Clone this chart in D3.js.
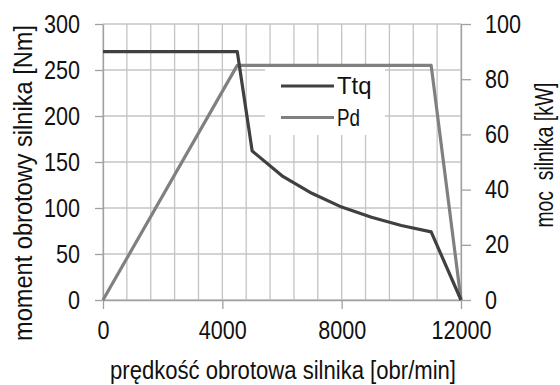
<!DOCTYPE html>
<html>
<head>
<meta charset="utf-8">
<script src="https://cdn.jsdelivr.net/npm/d3@7"></script>
<style>
  body { margin: 0; background: #fff; }
  text { font-family: "Liberation Sans", Arial, sans-serif; fill: #111; }
</style>
</head>
<body>
<script>
// engine speed [obr/min]
const ttqSpeed = [0, 4500, 5000, 6000, 7000, 8000, 9000, 10000, 11000, 12000];
const ttqValues = [270, 270, 162, 135, 116, 101, 90, 81, 74, 0];   // Nm
const pdSpeed = [0, 4500, 11000, 12000];
const pdValues = [0, 85, 85, 0];                                  // kW
const xTicks = [0, 4000, 8000, 12000];
const leftTicks = [0, 50, 100, 150, 200, 250, 300];
const rightTicks = [0, 20, 40, 60, 80, 100];
const seriesNames = ["Ttq", "Pd"];

let margin = {top: 24, right: 99, bottom: 85, left: 103};
let width = 560 - margin.left - margin.right;
let height = 385 - margin.top - margin.bottom;

let xScale = d3.scaleLinear().domain([0, 12000]).range([0, width]);
let yLeft = d3.scaleLinear().domain([0, 300]).range([height, 0]);
let yRight = d3.scaleLinear().domain([0, 100]).range([height, 0]);

let svg = d3.select("body").append("svg")
  .attr("width", 560)
  .attr("height", 385);
let chart = svg.append("g")
  .attr("transform", "translate(" + margin.left + "," + margin.top + ")");

// grid lines
chart.append("g")
  .selectAll("line")
  .data(d3.range(0, 12001, 800))
  .enter().append("line")
    .attr("x1", function(d) { return xScale(d); })
    .attr("x2", function(d) { return xScale(d); })
    .attr("y1", 0).attr("y2", height)
    .attr("stroke", "#c4c4c4").attr("stroke-width", 1.3);
chart.append("g")
  .selectAll("line")
  .data(leftTicks)
  .enter().append("line")
    .attr("x1", 0).attr("x2", width)
    .attr("y1", function(d) { return yLeft(d); })
    .attr("y2", function(d) { return yLeft(d); })
    .attr("stroke", "#c4c4c4").attr("stroke-width", 1.3);

// legend background
chart.append("rect")
  .attr("x", 265 - margin.left).attr("y", 67 - margin.top)
  .attr("width", 120).attr("height", 68)
  .attr("fill", "#fff");

// axes - labels squeezed a bit, the original font is narrow
function styleAxis(g) {
  g.select(".domain").attr("stroke", "#a0a0a0").attr("stroke-width", 1.3);
  g.selectAll(".tick line").attr("stroke", "#a0a0a0").attr("stroke-width", 1.3);
  g.selectAll(".tick text").attr("font-size", 25).attr("fill", "#111")
    .attr("font-family", null)
    .attr("textLength", function() { return this.textContent.length * 12; })
    .attr("lengthAdjust", "spacingAndGlyphs");
}
chart.append("g")
  .attr("transform", "translate(0," + height + ")")
  .call(d3.axisBottom(xScale).tickValues(xTicks).tickFormat(d3.format("d"))
    .tickSize(9).tickSizeOuter(0).tickPadding(12))
  .call(styleAxis);
chart.append("g")
  .call(d3.axisLeft(yLeft).tickValues(leftTicks).tickSize(8).tickSizeOuter(0).tickPadding(15))
  .call(styleAxis);
chart.append("g")
  .attr("transform", "translate(" + width + ",0)")
  .call(d3.axisRight(yRight).tickValues(rightTicks).tickSize(10).tickSizeOuter(0).tickPadding(14))
  .call(styleAxis);

// series lines
let ttqLine = d3.line()
  .x(function(d, i) { return xScale(ttqSpeed[i]); })
  .y(function(d) { return yLeft(d); });
let pdLine = d3.line()
  .x(function(d, i) { return xScale(pdSpeed[i]); })
  .y(function(d) { return yRight(d); });

chart.append("path")
  .datum(pdValues)
  .attr("d", pdLine)
  .attr("fill", "none").attr("stroke", "#808080").attr("stroke-width", 3.2)
  .attr("stroke-linejoin", "round");
chart.append("path")
  .datum(ttqValues)
  .attr("d", ttqLine)
  .attr("fill", "none").attr("stroke", "#404040").attr("stroke-width", 3.2)
  .attr("stroke-linejoin", "round");

// legend
let legendColors = ["#404040", "#808080"];
let legend = svg.append("g");
seriesNames.forEach(function(name, i) {
  let y = 86 + i * 31.5;
  legend.append("line")
    .attr("x1", 281).attr("x2", 334).attr("y1", y).attr("y2", y)
    .attr("stroke", legendColors[i]).attr("stroke-width", 3.2);
  legend.append("text")
    .attr("x", 337).attr("y", y + 8)
    .attr("font-size", 24)
    .attr("textLength", name.length * 11.5).attr("lengthAdjust", "spacingAndGlyphs")
    .text(name);
});

// axis titles
svg.append("text")
  .attr("x", 283).attr("y", 379)
  .attr("text-anchor", "middle")
  .attr("font-size", 25)
  .attr("textLength", 346).attr("lengthAdjust", "spacingAndGlyphs")
  .text("prędkość obrotowa silnika [obr/min]");
svg.append("text")
  .attr("transform", "translate(32,183) rotate(-90)")
  .attr("text-anchor", "middle")
  .attr("font-size", 25)
  .attr("textLength", 316).attr("lengthAdjust", "spacingAndGlyphs")
  .text("moment obrotowy silnika [Nm]");
svg.append("text")
  .attr("transform", "translate(553,155) rotate(-90)")
  .attr("text-anchor", "middle")
  .attr("font-size", 25)
  .attr("textLength", 145).attr("lengthAdjust", "spacingAndGlyphs")
  .style("white-space", "pre")
  .text("moc  silnika [kW]");
</script>
</body>
</html>
